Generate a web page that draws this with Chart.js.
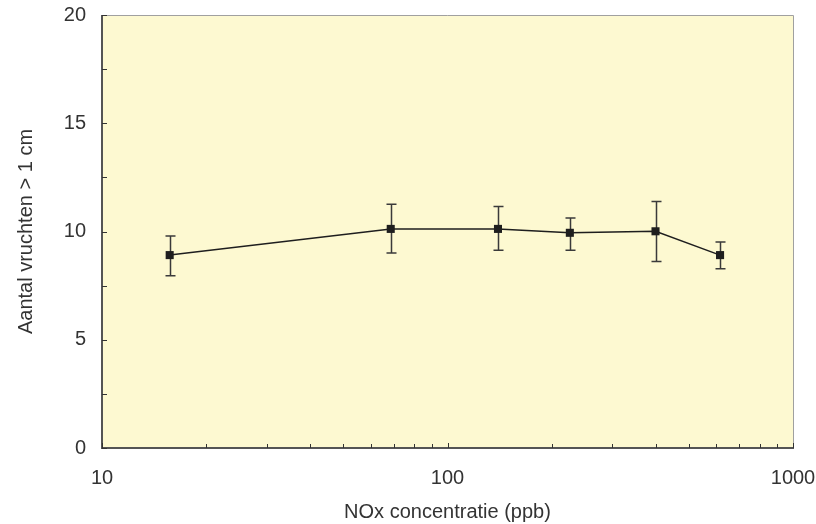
<!DOCTYPE html>
<html>
<head>
<meta charset="utf-8">
<script src="https://cdn.jsdelivr.net/npm/chart.js@4/dist/chart.umd.min.js"></script>
<style>
  html, body { margin: 0; padding: 0; background: #ffffff; }
  #wrap { width: 816px; height: 524px; }
</style>
</head>
<body>
<div id="wrap"><canvas id="c" width="816" height="524"></canvas></div>
<script>
// NOx concentration (ppb) and number of fruits > 1 cm, with error bar limits
const noxPpb   = [15.7, 68.5, 140, 226, 400, 615];
const fruitAvg = [8.91, 10.12, 10.12, 9.94, 10.01, 8.91];
const errLow   = [7.96, 9.01, 9.13, 9.13, 8.61, 8.28];
const errHigh  = [9.79, 11.26, 11.15, 10.62, 11.39, 9.51];
const xTickLabels = [10, 100, 1000];
const yTickLabels = [0, 5, 10, 15, 20];

const FONT = '"Liberation Sans", Arial, sans-serif';
const TEXT = '#333333';

const points = noxPpb.map((x, i) => ({ x: x, y: fruitAvg[i] }));

// plot background
const bgPlugin = {
  id: 'plotBg',
  beforeDraw(chart) {
    const { ctx, chartArea: a } = chart;
    ctx.save();
    ctx.fillStyle = '#fdf9d1';
    ctx.fillRect(a.left, a.top, a.right - a.left, a.bottom - a.top);
    ctx.restore();
  }
};

// vertical error bars with caps
const errPlugin = {
  id: 'errBars',
  beforeDatasetsDraw(chart) {
    const { ctx, scales: { x, y } } = chart;
    ctx.save();
    ctx.strokeStyle = '#3a3a3a';
    ctx.lineWidth = 1.5;
    noxPpb.forEach((v, i) => {
      const px = Math.round(x.getPixelForValue(v)) + 0.5;
      const lo = y.getPixelForValue(errLow[i]);
      const hi = y.getPixelForValue(errHigh[i]);
      ctx.beginPath();
      ctx.moveTo(px, lo); ctx.lineTo(px, hi);
      ctx.moveTo(px - 5, hi); ctx.lineTo(px + 5, hi);
      ctx.moveTo(px - 5, lo); ctx.lineTo(px + 5, lo);
      ctx.stroke();
    });
    ctx.restore();
  }
};

// frame and inward tick marks
const framePlugin = {
  id: 'frame',
  afterDatasetsDraw(chart) {
    const { ctx, chartArea: a, scales: { x, y } } = chart;
    ctx.save();
    // top and right border
    ctx.strokeStyle = '#a0a0a0';
    ctx.lineWidth = 1;
    ctx.beginPath();
    ctx.moveTo(a.left, a.top + 0.5); ctx.lineTo(a.right + 0.5, a.top + 0.5);
    ctx.lineTo(a.right + 0.5, a.bottom);
    ctx.stroke();
    // left and bottom axes
    ctx.strokeStyle = '#555555';
    ctx.lineWidth = 2;
    ctx.beginPath();
    ctx.moveTo(a.left, a.top); ctx.lineTo(a.left, a.bottom);
    ctx.lineTo(a.right + 1, a.bottom);
    ctx.stroke();
    ctx.lineWidth = 1;
    ctx.strokeStyle = '#333333';
    ctx.beginPath();
    // y ticks every 2.5
    for (let v = 0; v <= 20; v += 2.5) {
      const py = Math.round(y.getPixelForValue(v)) + 0.5;
      ctx.moveTo(a.left, py); ctx.lineTo(a.left + 5, py);
    }
    // x log ticks
    for (let d = 10; d < 1000; d *= 10) {
      for (let m = 1; m <= 10; m++) {
        const px = Math.round(x.getPixelForValue(d * m)) + 0.5;
        const len = (m === 1 || m === 10) ? 5 : 4;
        ctx.moveTo(px, a.bottom); ctx.lineTo(px, a.bottom - len);
      }
    }
    ctx.stroke();
    ctx.restore();
  }
};

function zeroPadding(scale) {
  scale.paddingTop = 0;
  scale.paddingBottom = 0;
  scale.paddingLeft = 0;
  scale.paddingRight = 0;
}

new Chart(document.getElementById('c'), {
  type: 'line',
  data: {
    datasets: [{
      data: points,
      borderColor: '#1e1e1e',
      borderWidth: 1.5,
      pointStyle: 'rect',
      pointRadius: 5.7,
      pointBackgroundColor: '#1e1e1e',
      pointBorderColor: '#1e1e1e',
      pointBorderWidth: 0,
      tension: 0,
      fill: false
    }]
  },
  options: {
    responsive: false,
    animation: false,
    devicePixelRatio: 1,
    layout: { padding: { top: 15, right: 23, left: 0, bottom: 0 } },
    plugins: { legend: { display: false }, tooltip: { enabled: false } },
    scales: {
      x: {
        type: 'logarithmic',
        min: 10,
        max: 1000,
        afterBuildTicks(scale) { scale.ticks = xTickLabels.map(v => ({ value: v })); },
        afterFit(scale) { scale.height = 76; zeroPadding(scale); },
        grid: { display: false, drawTicks: false },
        border: { display: false },
        ticks: {
          autoSkip: false,
          maxRotation: 0,
          padding: 18,
          color: TEXT,
          font: { family: FONT, size: 20 },
          callback: (v) => String(v)
        },
        title: {
          display: true,
          text: 'NOx concentratie (ppb)',
          color: TEXT,
          font: { family: FONT, size: 20 },
          padding: { top: 4, bottom: 0 }
        }
      },
      y: {
        min: 0,
        max: 20,
        afterBuildTicks(scale) { scale.ticks = yTickLabels.map(v => ({ value: v })); },
        afterFit(scale) { scale.width = 102; zeroPadding(scale); },
        grid: { display: false, drawTicks: false },
        border: { display: false },
        ticks: {
          padding: 16,
          color: TEXT,
          font: { family: FONT, size: 20 }
        },
        title: {
          display: true,
          text: 'Aantal vruchten > 1 cm',
          color: TEXT,
          font: { family: FONT, size: 20 },
          padding: { top: 14, bottom: 0 }
        }
      }
    }
  },
  plugins: [bgPlugin, errPlugin, framePlugin]
});
</script>
</body>
</html>
